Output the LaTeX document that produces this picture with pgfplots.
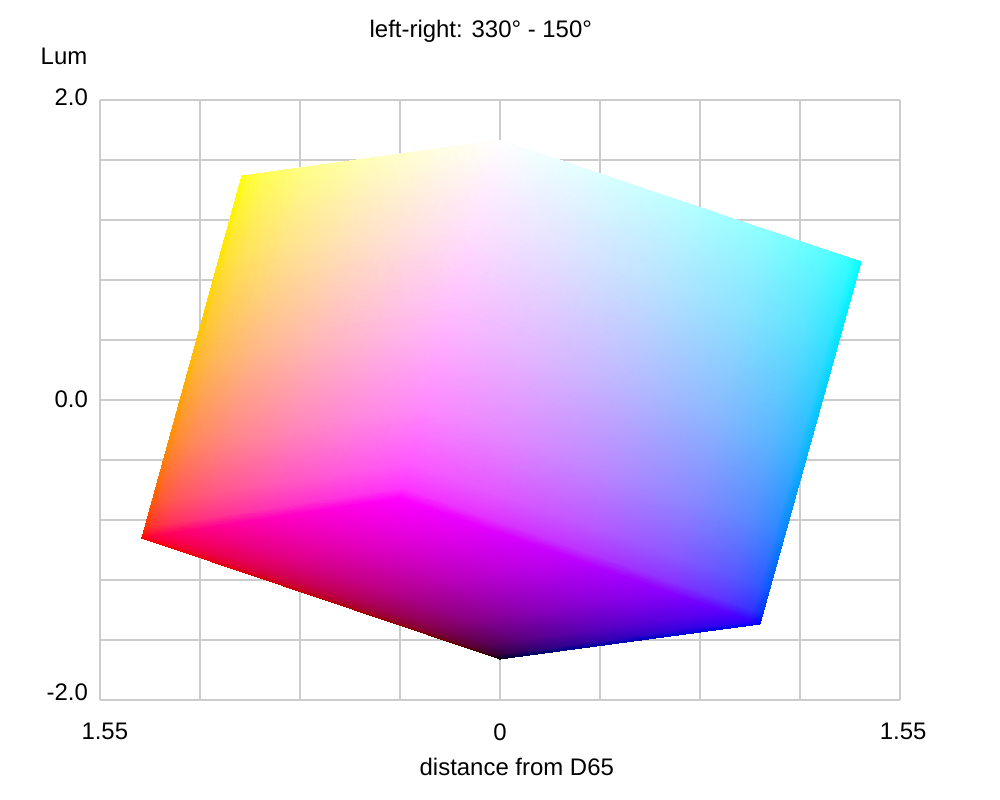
\documentclass[border=0pt]{standalone}
\usepackage{fontspec}
\setmainfont{Liberation Sans}
\usepackage{pgfplots}
\pgfplotsset{compat=1.18}
\newcommand{\lbl}{\fontsize{17.3}{20}\selectfont}
\begin{document}
\begin{tikzpicture}
\path[use as bounding box] (0,0) rectangle (10in,8in);
\begin{axis}[
 at={(1in,1in)}, anchor=south west,
 width=8in, height=6in, scale only axis,
 xmin=-1.55, xmax=1.55, ymin=-2, ymax=2,
 axis line style={draw=none},
 tick style={draw=none},
 grid=both,
 grid style={draw=black!20, line width=1pt},
 xtick={-1.55,-1.1625,-0.775,-0.3875,0,0.3875,0.775,1.1625,1.55},
 xticklabels={},
 ytick={-2,-1.6,-1.2,-0.8,-0.4,0,0.4,0.8,1.2,1.6,2},
 yticklabels={},
 clip=false,
]
% yellow-white-magenta-red face
\addplot[surf, shader=interp, mesh/rows=7, mesh/cols=7, mesh/color input=explicit] table[meta=c, row sep=\\] {
x y c\\
-1.3873 -0.9200 rgb=1,0,0\\
-1.3573 -0.9120 rgb=1,0,.203\\
-1.2873 -0.8933 rgb=1,0,.351\\
-1.1373 -0.8533 rgb=1,0,.533\\
-0.8873 -0.7867 rgb=1,0,.730\\
-0.6373 -0.7200 rgb=1,0,.877\\
-0.3873 -0.6533 rgb=1,0,1\\
-1.3757 -0.8476 rgb=1,.203,0\\
-1.3457 -0.8396 rgb=1,.203,.203\\
-1.2757 -0.8210 rgb=1,.203,.351\\
-1.1257 -0.7811 rgb=1,.203,.533\\
-0.8757 -0.7147 rgb=1,.203,.730\\
-0.6257 -0.6482 rgb=1,.203,.877\\
-0.3757 -0.5817 rgb=1,.203,1\\
-1.3486 -0.6787 rgb=1,.351,0\\
-1.3186 -0.6707 rgb=1,.351,.203\\
-1.2486 -0.6522 rgb=1,.351,.351\\
-1.0986 -0.6126 rgb=1,.351,.533\\
-0.8486 -0.5467 rgb=1,.351,.730\\
-0.5986 -0.4807 rgb=1,.351,.877\\
-0.3486 -0.4146 rgb=1,.351,1\\
-1.2905 -0.3167 rgb=1,.533,0\\
-1.2605 -0.3089 rgb=1,.533,.203\\
-1.1905 -0.2906 rgb=1,.533,.351\\
-1.0405 -0.2516 rgb=1,.533,.533\\
-0.7905 -0.1867 rgb=1,.533,.730\\
-0.5405 -0.1217 rgb=1,.533,.877\\
-0.2905 -0.0566 rgb=1,.533,1\\
-1.1936 0.2867 rgb=1,.730,0\\
-1.1636 0.2943 rgb=1,.730,.203\\
-1.0936 0.3120 rgb=1,.730,.351\\
-0.9436 0.3500 rgb=1,.730,.533\\
-0.6936 0.4133 rgb=1,.730,.730\\
-0.4436 0.4767 rgb=1,.730,.877\\
-0.1936 0.5400 rgb=1,.730,1\\
-1.0968 0.8900 rgb=1,.877,0\\
-1.0668 0.8974 rgb=1,.877,.203\\
-0.9968 0.9147 rgb=1,.877,.351\\
-0.8468 0.9517 rgb=1,.877,.533\\
-0.5968 1.0133 rgb=1,.877,.730\\
-0.3468 1.0750 rgb=1,.877,.877\\
-0.0968 1.1367 rgb=1,.877,1\\
-1.0000 1.4933 rgb=1,1,0\\
-0.9700 1.5005 rgb=1,1,.203\\
-0.9000 1.5173 rgb=1,1,.351\\
-0.7500 1.5533 rgb=1,1,.533\\
-0.5000 1.6133 rgb=1,1,.730\\
-0.2500 1.6733 rgb=1,1,.877\\
0.0000 1.7333 rgb=1,1,1\\
};
% white-cyan-blue-magenta face
\addplot[surf, shader=interp, mesh/rows=7, mesh/cols=7, mesh/color input=explicit] table[meta=c, row sep=\\] {
x y c\\
1.0075 -1.4933 rgb=0,0,1\\
0.9657 -1.4681 rgb=.203,0,1\\
0.8680 -1.4093 rgb=.351,0,1\\
0.6588 -1.2833 rgb=.533,0,1\\
0.3100 -1.0733 rgb=.730,0,1\\
-0.0388 -0.8633 rgb=.877,0,1\\
-0.3875 -0.6533 rgb=1,0,1\\
1.0192 -1.4209 rgb=0,.203,1\\
0.9774 -1.3957 rgb=.203,.203,1\\
0.8797 -1.3370 rgb=.351,.203,1\\
0.6705 -1.2111 rgb=.533,.203,1\\
0.3217 -1.0013 rgb=.730,.203,1\\
-0.0271 -0.7915 rgb=.877,.203,1\\
-0.3759 -0.5817 rgb=1,.203,1\\
1.0466 -1.2520 rgb=0,.351,1\\
1.0048 -1.2268 rgb=.203,.351,1\\
0.9071 -1.1682 rgb=.351,.351,1\\
0.6978 -1.0426 rgb=.533,.351,1\\
0.3489 -0.8333 rgb=.730,.351,1\\
0.0001 -0.6240 rgb=.877,.351,1\\
-0.3487 -0.4146 rgb=1,.351,1\\
1.1053 -0.8900 rgb=0,.533,1\\
1.0635 -0.8650 rgb=.203,.533,1\\
0.9657 -0.8066 rgb=.351,.533,1\\
0.7564 -0.6816 rgb=.533,.533,1\\
0.4074 -0.4733 rgb=.730,.533,1\\
0.0583 -0.2650 rgb=.877,.533,1\\
-0.2906 -0.0566 rgb=1,.533,1\\
1.2032 -0.2866 rgb=0,.730,1\\
1.1613 -0.2618 rgb=.203,.730,1\\
1.0635 -0.2040 rgb=.351,.730,1\\
0.8540 -0.0800 rgb=.533,.730,1\\
0.5047 0.1267 rgb=.730,.730,1\\
0.1555 0.3334 rgb=.877,.730,1\\
-0.1937 0.5400 rgb=1,.730,1\\
1.3010 0.3167 rgb=0,.877,1\\
1.2591 0.3413 rgb=.203,.877,1\\
1.1612 0.3987 rgb=.351,.877,1\\
0.9516 0.5217 rgb=.533,.877,1\\
0.6021 0.7267 rgb=.730,.877,1\\
0.2526 0.9317 rgb=.877,.877,1\\
-0.0969 1.1367 rgb=1,.877,1\\
1.3988 0.9200 rgb=0,1,1\\
1.3569 0.9444 rgb=.203,1,1\\
1.2589 1.0013 rgb=.351,1,1\\
1.0492 1.1233 rgb=.533,1,1\\
0.6994 1.3267 rgb=.730,1,1\\
0.3497 1.5300 rgb=.877,1,1\\
0.0000 1.7333 rgb=1,1,1\\
};
% red-magenta-blue-black face
\addplot[surf, shader=interp, mesh/rows=7, mesh/cols=7, mesh/color input=explicit] table[meta=c, row sep=\\] {
x y c\\
0.0000 -1.7267 rgb=0,0,0\\
-0.0416 -1.7025 rgb=.203,0,0\\
-0.1387 -1.6460 rgb=.351,0,0\\
-0.3468 -1.5250 rgb=.533,0,0\\
-0.6937 -1.3234 rgb=.730,0,0\\
-1.0405 -1.1217 rgb=.877,0,0\\
-1.3873 -0.9200 rgb=1,0,0\\
0.0302 -1.7197 rgb=0,0,.203\\
-0.0114 -1.6955 rgb=.203,0,.203\\
-0.1085 -1.6389 rgb=.351,0,.203\\
-0.3166 -1.5177 rgb=.533,0,.203\\
-0.6636 -1.3159 rgb=.730,0,.203\\
-1.0104 -1.1139 rgb=.877,0,.203\\
-1.3573 -0.9120 rgb=1,0,.203\\
0.1008 -1.7034 rgb=0,0,.351\\
0.0591 -1.6791 rgb=.203,0,.351\\
-0.0380 -1.6223 rgb=.351,0,.351\\
-0.2462 -1.5008 rgb=.533,0,.351\\
-0.5933 -1.2984 rgb=.730,0,.351\\
-0.9403 -1.0959 rgb=.877,0,.351\\
-1.2873 -0.8933 rgb=1,0,.351\\
0.2519 -1.6683 rgb=0,0,.533\\
0.2102 -1.6439 rgb=.203,0,.533\\
0.1130 -1.5868 rgb=.351,0,.533\\
-0.0954 -1.4646 rgb=.533,0,.533\\
-0.4428 -1.2609 rgb=.730,0,.533\\
-0.7901 -1.0571 rgb=.877,0,.533\\
-1.1373 -0.8533 rgb=1,0,.533\\
0.5038 -1.6100 rgb=0,0,.730\\
0.4621 -1.5853 rgb=.203,0,.730\\
0.3647 -1.5276 rgb=.351,0,.730\\
0.1560 -1.4041 rgb=.533,0,.730\\
-0.1918 -1.1983 rgb=.730,0,.730\\
-0.5396 -0.9925 rgb=.877,0,.730\\
-0.8874 -0.7866 rgb=1,0,.730\\
0.7556 -1.5516 rgb=0,0,.877\\
0.7139 -1.5267 rgb=.203,0,.877\\
0.6163 -1.4685 rgb=.351,0,.877\\
0.4074 -1.3437 rgb=.533,0,.877\\
0.0591 -1.1358 rgb=.730,0,.877\\
-0.2892 -0.9279 rgb=.877,0,.877\\
-0.6374 -0.7200 rgb=1,0,.877\\
1.0075 -1.4933 rgb=0,0,1\\
0.9657 -1.4681 rgb=.203,0,1\\
0.8680 -1.4093 rgb=.351,0,1\\
0.6588 -1.2833 rgb=.533,0,1\\
0.3100 -1.0733 rgb=.730,0,1\\
-0.0388 -0.8633 rgb=.877,0,1\\
-0.3875 -0.6533 rgb=1,0,1\\
};
\node[font=\lbl] at (axis description cs:0.476,1.115) {left-right: 330° - 150°};
\node[font=\lbl] at (axis description cs:-0.045,1.072) {Lum};
\node[font=\lbl, anchor=east] at (axis description cs:-0.009,1.005) {2.0};
\node[font=\lbl, anchor=east] at (axis description cs:-0.009,0.502) {0.0};
\node[font=\lbl, anchor=east] at (axis description cs:-0.009,0.013) {-2.0};
\node[font=\lbl] at (axis description cs:0.006,-0.053) {1.55};
\node[font=\lbl] at (axis description cs:0.5,-0.053) {0};
\node[font=\lbl] at (axis description cs:1.004,-0.053) {1.55};
\node[font=\lbl] at (axis description cs:0.521,-0.112) {distance from D65};
\end{axis}
\end{tikzpicture}
\end{document}
